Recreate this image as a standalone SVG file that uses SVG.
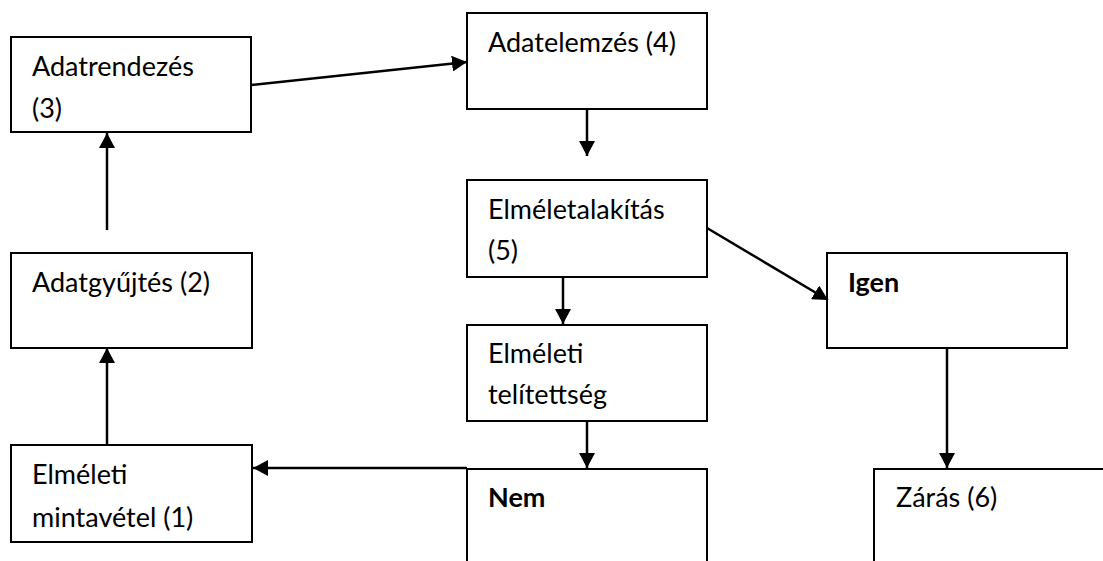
<svg xmlns="http://www.w3.org/2000/svg" width="1103" height="561" viewBox="0 0 1103 561">
<style>
.box{fill:#fff;stroke:#000;stroke-width:2}
.t{font-family:Lato,"Liberation Sans",sans-serif;font-size:27px;fill:#000}
.b{font-weight:bold}
.c{stroke:#000;stroke-width:2.5;fill:none;marker-end:url(#ah)}
</style>
<defs>
<marker id="ah" markerUnits="userSpaceOnUse" markerWidth="16" markerHeight="16" refX="15" refY="8" orient="auto">
<path d="M0,0 L15,8 L0,16 z" fill="#000"/>
</marker>
</defs>
<rect width="1103" height="561" fill="#fff"/>
<g id="n3"><rect class="box" x="11" y="37" width="240" height="95"/><text class="t" x="32" y="76">Adatrendezés</text><text class="t" x="32" y="118">(3)</text></g>
<g id="n4"><rect class="box" x="467" y="13" width="240" height="96"/><text class="t" x="488" y="52">Adatelemzés (4)</text></g>
<g id="n5"><rect class="box" x="467" y="180" width="240" height="97"/><text class="t" x="488" y="219">Elméletalakítás</text><text class="t" x="488" y="260">(5)</text></g>
<g id="nsat"><rect class="box" x="467" y="325" width="240" height="96"/><text class="t" x="488" y="363">Elméleti</text><text class="t" x="488" y="404">telítettség</text></g>
<g id="nnem"><rect class="box" x="467" y="469" width="240" height="110"/><text class="t b" x="488" y="507">Nem</text></g>
<g id="n2"><rect class="box" x="11" y="253" width="241" height="95"/><text class="t" x="32" y="292">Adatgyűjtés (2)</text></g>
<g id="n1"><rect class="box" x="11" y="445" width="241" height="97"/><text class="t" x="32" y="484">Elméleti</text><text class="t" x="32" y="527">mintavétel (1)</text></g>
<g id="nigen"><rect class="box" x="827" y="253" width="240" height="95"/><text class="t b" x="848" y="292">Igen</text></g>
<g id="n6"><rect class="box" x="874" y="469" width="240" height="110"/><text class="t" x="896" y="507">Zárás (6)</text></g>
<g id="connectors">
<line class="c" x1="107" y1="445" x2="107" y2="348"/>
<line class="c" x1="107" y1="230" x2="107" y2="133"/>
<line class="c" x1="251" y1="85" x2="467" y2="62"/>
<line class="c" x1="587" y1="109" x2="587" y2="156"/>
<line class="c" x1="707" y1="228" x2="828" y2="300"/>
<line class="c" x1="563" y1="277" x2="563" y2="324"/>
<line class="c" x1="587" y1="421" x2="587" y2="468"/>
<line class="c" x1="467" y1="468" x2="253" y2="468"/>
<line class="c" x1="947" y1="348" x2="947" y2="468"/>
</g>
</svg>
